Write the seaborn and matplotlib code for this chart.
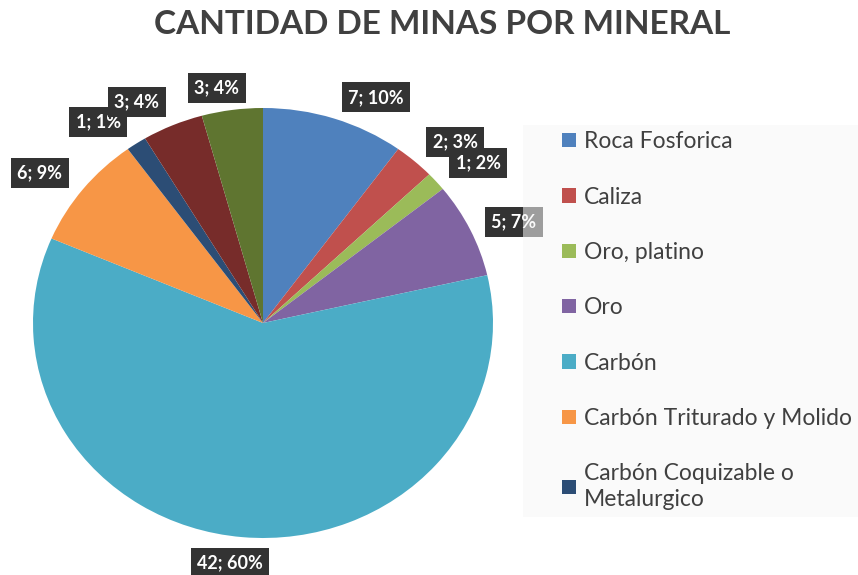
import matplotlib.pyplot as plt
import seaborn as sns
from matplotlib.patches import Patch, Rectangle

# data
minerales = ["Roca Fosforica", "Caliza", "Oro, platino", "Oro", "Carbón",
             "Carbón Triturado y Molido", "Carbón Coquizable o\nMetalurgico",
             "Otro 1", "Otro 2"]
minas = [7, 2, 1, 5, 42, 6, 1, 3, 3]
etiquetas = ["7; 10%", "2; 3%", "1; 2%", "5; 7%", "42; 60%", "6; 9%", "1; 1%", "3; 4%", "3; 4%"]
colores = ["#4F81BD", "#C0504D", "#9BBB59", "#8064A2", "#4BACC6",
           "#F79646", "#2C4D75", "#772C2A", "#5F7530"]
n_legend = 7  # the last entries fall outside the visible legend

# label anchors in pie-radius units (x, y)
label_pos = [(0.49, 1.05), (0.835, 0.842), (0.935, 0.744), (1.09, 0.47), (-0.143, -1.116),
             (-0.97, 0.698), (-0.717, 0.935), (-0.548, 1.028), (-0.2, 1.093)]

sns.set_theme(style="white")
plt.rcParams['font.family'] = ['Lato', 'DejaVu Sans']

W, H = 858, 575
fig = plt.figure(figsize=(W / 100, H / 100), dpi=100)
ax = fig.add_axes([33 / W, (H - 538) / H, 460 / W, 430 / H])

wedges, _ = ax.pie(minas, colors=colores, startangle=90, counterclock=False,
                   wedgeprops=dict(linewidth=0))
ax.set_aspect('auto')
ax.set_xlim(-1, 1)
ax.set_ylim(-1, 1)
ax.axis('off')

for (x, y), txt in zip(label_pos, etiquetas):
    ax.text(x, y, txt, ha='center', va='center', fontsize=13, fontweight='bold',
            color='white', zorder=5,
            bbox=dict(boxstyle='square,pad=0.35', facecolor='#333333', edgecolor='none'))

# legend panel
fig.patches.append(Rectangle((523 / W, (H - 517) / H), (W - 523) / W, 392 / H,
                             transform=fig.transFigure, facecolor='#F6F6F6',
                             edgecolor='none', alpha=0.55, zorder=10))
handles = [Patch(facecolor=c, edgecolor='none') for c in colores[:n_legend]]
leg = fig.legend(handles, minerales[:n_legend], loc='upper left',
                 bbox_to_anchor=(553 / W, (H - 122) / H), frameon=False,
                 fontsize=16.5, handlelength=0.6, handleheight=0.6,
                 handletextpad=0.35, labelspacing=1.5, borderaxespad=0)
for t in leg.get_texts():
    t.set_color('#404040')
    t.set_linespacing(1.25)
leg.set_zorder(11)

fig.text(442 / W, 1 - 25 / H, "CANTIDAD DE MINAS POR MINERAL", ha='center', va='center',
         fontsize=24, fontweight='bold', color='#404040')

fig.savefig("out.png", dpi=100)
